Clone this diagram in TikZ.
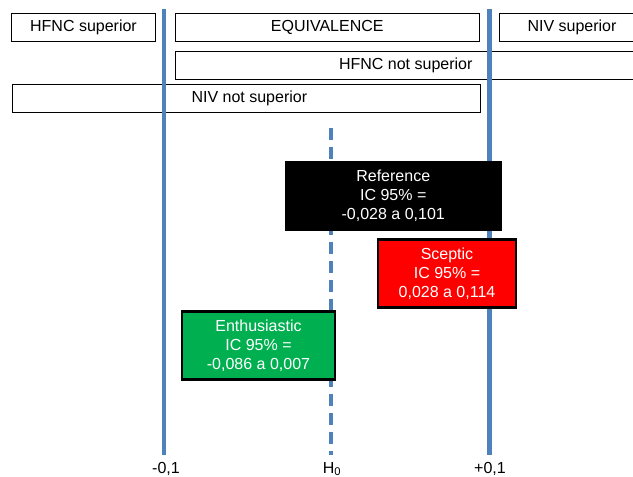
\documentclass[tikz,border=0pt]{standalone}
\usepackage{fontspec}
\setmainfont{Liberation Sans}
\usetikzlibrary{positioning,calc}

\definecolor{axisblue}{RGB}{79,129,189}
\definecolor{enthgreen}{RGB}{0,176,80}

\begin{document}
\begin{tikzpicture}[
    x=1pt, y=-1pt,
    every node/.style={font=\fontsize{16}{19}\selectfont},
    band/.style={
        rectangle, 
        minimum height=28pt, 
        inner sep=0pt,
        text centered, 
        draw=black, 
        fill=white,
        line width=0.9pt
    },
    result/.style={
        rectangle, 
        minimum height=68pt, 
        inner sep=0pt,
        align=center, 
        draw=black, 
        text=white,
        line width=2.5pt
    },
    axis/.style={
        draw=axisblue,
        line width=4.5pt
    },
    tick/.style={
        inner sep=0pt,
        anchor=base
    }
]
\useasboundingbox (0,0) rectangle (633,477);

% Hypothesis bands
\node (hfncsup) [band, minimum width=144pt] at (83.5,27.5) {HFNC superior};
\node (equiv) [band, minimum width=304.5pt] at (327.25,27.5) {EQUIVALENCE};
\node (nivsup) [band, minimum width=146pt] at (572,27.5) {NIV superior};
\node (hfncns) [band, minimum width=475pt, anchor=west] at (175,65) {};
\node [anchor=east] at ([xshift=301pt]hfncns.west) {HFNC not superior};
\node (nivns) [band, minimum width=468.5pt, anchor=west] at (11.5,98) {};
\node [anchor=west] at ([xshift=176.5pt]nivns.west) {NIV not superior};

% Axis labels
\node (lowlab) [tick] at (166,473) {-0,1};
\node (h0lab) [tick] at (332,473) {H\textsubscript{0}};
\node (uplab) [tick] at (490,473) {+0,1};

% Margins and null hypothesis
\coordinate (lowtop) at (164,9);
\coordinate (lowbot) at (164,455);
\coordinate (h0top) at (331,128);
\coordinate (h0bot) at (331,455);
\coordinate (uptop) at (489.5,9);
\coordinate (upbot) at (489.5,455);
\draw [axis] (lowtop) -- (lowbot);
\draw [axis] (uptop) -- (upbot);
\draw [axis, dash pattern=on 12pt off 7pt] (h0top) -- (h0bot);

% Priors
\node (ref) [result, fill=black, minimum width=215pt] at (393.25,196) {Reference\\IC 95\% =\\-0,028 a 0,101};
\node (scep) [result, fill=red, minimum width=138pt] at (447,273.5) {Sceptic\\IC 95\% =\\0,028 a 0,114};
\node (enth) [result, fill=enthgreen, minimum width=153pt] at (258.5,345.5) {Enthusiastic\\IC 95\% =\\-0,086 a 0,007};

\end{tikzpicture}
\end{document}
